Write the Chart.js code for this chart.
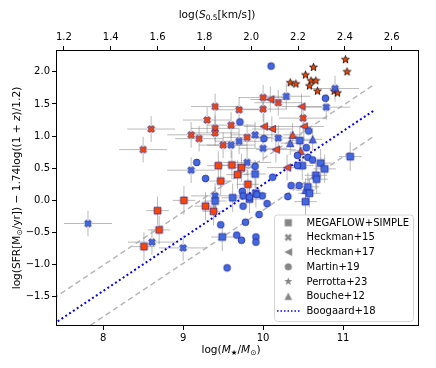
<!DOCTYPE html>
<html><head><meta charset="utf-8">
<script src="https://cdn.jsdelivr.net/npm/chart.js@4.4.0/dist/chart.umd.min.js"></script>
<style>html,body{margin:0;padding:0;background:#fff}canvas{display:block}</style>
</head><body>
<canvas id="c" width="436" height="368" style="width:436px;height:368px"></canvas>
<script>
// ---------------- data ----------------
const xTicks = [8, 9, 10, 11];
const yTicks = [-1.5, -1.0, -0.5, 0.0, 0.5, 1.0, 1.5, 2.0];
const topTicks = [1.2, 1.4, 1.6, 1.8, 2.0, 2.2, 2.4, 2.6];
const legendLabels = ['MEGAFLOW+SIMPLE', 'Heckman+15', 'Heckman+17', 'Martin+19', 'Perrotta+23', 'Bouche+12', 'Boogaard+18'];

// MEGAFLOW+SIMPLE (squares)
const mfOrangeM   = [8.68, 8.70, 8.51, 9.01, 9.28, 9.38, 9.44, 9.61, 9.73, 9.68, 9.47, 9.81];
const mfOrangeSFR = [-0.16, -0.46, -0.72, 0.00, -0.09, -0.17, 0.54, 0.55, 0.51, 0.40, 0.30, 0.25];
const mfBlueM     = [9.40, 9.62, 9.49, 9.83, 9.91, 9.90, 10.46, 10.72, 10.77, 11.09, 10.49, 10.66, 10.67, 10.56, 10.58, 10.53];
const mfBlueSFR   = [-0.01, 0.04, -0.57, 0.02, 0.11, 0.41, 0.93, 0.58, 0.49, 0.68, 0.54, 0.39, 0.33, 0.21, 0.11, -0.02];
const mfErrM = 0.14, mfErrSFR = 0.22;

// Heckman+15 (X)
const h15OrangeM   = [8.60, 8.50, 9.40, 9.70, 9.30, 9.60, 9.40, 9.40, 9.10, 9.20, 9.50, 9.80, 10.00, 10.19, 10.00, 10.50];
const h15OrangeSFR = [1.11, 0.79, 1.46, 1.41, 1.25, 1.17, 1.12, 1.05, 1.02, 0.96, 0.86, 0.98, 1.60, 1.52, 1.42, 1.28];
const h15BlueM     = [7.81, 8.61, 9.00, 9.10, 9.40, 9.60, 9.70, 9.90, 10.19, 10.00, 9.80, 10.29, 10.90, 10.79];
const h15BlueSFR   = [-0.36, -0.65, -0.74, 0.47, 0.07, 0.86, 0.92, 1.02, 0.97, 0.81, 0.59, 1.62, 1.74, 1.45];
const h15ErrM = 0.3, h15ErrSFR = 0.2;

// Heckman+17 (left triangles)
const h17M   = [10.09, 10.48, 10.51, 10.01, 10.11, 10.16, 10.30];
const h17SFR = [1.57, 1.46, 1.15, 1.15, 1.11, 0.79, 0.51];
const h17ErrM = 0.25, h17ErrSFR = 0.2;

// Martin+19 (circles)
const m19M   = [10.10, 9.71, 9.17, 9.28, 9.74, 9.75, 9.75, 9.47, 9.55, 9.78, 9.67, 9.73, 9.91, 9.91, 9.95, 10.01, 10.57, 10.43, 10.56, 10.62, 10.43, 10.12, 10.35, 10.45, 10.31, 9.99, 9.83, 9.90, 10.78, 10.54, 9.92, 10.05];
const m19SFR = [2.09, 1.22, 0.59, 0.34, 0.14, 0.07, -0.09, -0.38, -1.05, -0.34, -0.54, -0.62, -0.57, -0.65, -0.22, 0.96, 1.08, 0.70, 0.67, 0.63, 0.54, 0.36, 0.23, 0.23, 0.06, 0.07, 0.05, 0.53, 1.59, 0.82, 0.09, -0.05];

// Perrotta+23 (stars)
const p23M   = [10.34, 10.41, 10.53, 10.63, 10.60, 10.66, 10.58, 10.68, 11.03, 11.05, 10.89, 10.93];
const p23SFR = [1.83, 1.81, 1.95, 2.07, 1.86, 1.86, 1.78, 1.70, 2.19, 2.00, 1.70, 1.67];

// Bouche+12 (triangles)
const b12BlueM     = [10.34, 10.62, 10.53];
const b12BlueSFR   = [0.89, 0.95, 0.16];
const b12OrangeM   = [10.37, 10.47];
const b12OrangeSFR = [1.02, 0.77];
const b12ErrM = 0.12, b12ErrSFR = 0.18;

// Boogaard+18 relation and +/- 0.4 dex scatter
const boogaardM     = [7.0, 11.4];
const boogaardSFR   = [-2.24, 1.41];
const boogaardHiSFR = [-1.84, 1.81];
const boogaardLoSFR = [-2.64, 1.01];

// ---------------- styling ----------------
const ORANGE = '#ff4500', BLUE = '#4169e1', EDGE = 'rgba(35,35,150,0.75)', STAR_EDGE = 'rgba(45,20,10,0.9)';
const GRAY = '#868686', ERR = 'rgba(120,120,120,0.5)';
const FONT = '"DejaVu Sans", "Liberation Sans", sans-serif';

function marker(shape, size, fill, edge, lw) {
  const pad = 2, dim = Math.ceil(size + 2 * pad);
  const c = document.createElement('canvas'); c.width = c.height = dim;
  const g = c.getContext('2d'); g.translate(dim / 2, dim / 2);
  const h = size / 2; g.beginPath();
  if (shape === 'square') g.rect(-h, -h, size, size);
  else if (shape === 'circle') g.arc(0, 0, h, 0, 2 * Math.PI);
  else if (shape === 'tri') { g.moveTo(0, -h); g.lineTo(h, h); g.lineTo(-h, h); g.closePath(); }
  else if (shape === 'triLeft') { g.moveTo(-h, 0); g.lineTo(h, -h); g.lineTo(h, h); g.closePath(); }
  else if (shape === 'X') {
    const pts = [[-1,-3],[-1,-1],[-3,-1],[-3,1],[-1,1],[-1,3],[1,3],[1,1],[3,1],[3,-1],[1,-1],[1,-3]];
    const k = size / 6, r = Math.SQRT1_2;
    pts.forEach(([u, v], j) => { const X = (u - v) * r * k, Y = (u + v) * r * k; j ? g.lineTo(X, Y) : g.moveTo(X, Y); });
    g.closePath();
  } else if (shape === 'star') {
    for (let j = 0; j < 10; j++) {
      const rr = j % 2 ? h * 0.40 : h, a = -Math.PI / 2 + j * Math.PI / 5;
      const X = rr * Math.cos(a), Y = rr * Math.sin(a); j ? g.lineTo(X, Y) : g.moveTo(X, Y);
    }
    g.closePath();
  }
  g.fillStyle = fill; g.fill();
  if (edge) { g.lineWidth = lw; g.strokeStyle = edge; g.stroke(); }
  return c;
}

const SZ = { square: 6.8, X: 7.4, triLeft: 7.4, circle: 6.8, star: 8.2, tri: 7.2 };
const pts = (xs, ys) => xs.map((x, i) => ({ x, y: ys[i] }));

function scatterDs(label, xs, ys, shape, fill, edge, eM, eS) {
  return {
    label, type: 'scatter', data: pts(xs, ys), order: 0,
    pointStyle: marker(shape, SZ[shape], fill, edge, 1), pointRadius: 3,
    errM: eM || 0, errS: eS || 0
  };
}
function lineDs(label, ys, color, dash, width) {
  return {
    label, type: 'scatter', showLine: true, data: pts(boogaardM, ys), order: 10,
    borderColor: color, borderDash: dash, borderWidth: width, pointRadius: 0, fill: false
  };
}

const datasets = [
  lineDs('hi', boogaardHiSFR, 'rgba(170,170,170,0.85)', [5.5, 3.5], 1.5),
  lineDs('lo', boogaardLoSFR, 'rgba(170,170,170,0.85)', [5.5, 3.5], 1.5),
  lineDs('Boogaard+18', boogaardSFR, '#0000ff', [2, 2.6], 2),
  scatterDs('Martin+19 b', m19M, m19SFR, 'circle', BLUE, EDGE),
  scatterDs('MEGAFLOW b', mfBlueM, mfBlueSFR, 'square', BLUE, EDGE, mfErrM, mfErrSFR),
  scatterDs('MEGAFLOW o', mfOrangeM, mfOrangeSFR, 'square', ORANGE, EDGE, mfErrM, mfErrSFR),
  scatterDs('Heckman+15 b', h15BlueM, h15BlueSFR, 'X', BLUE, EDGE, h15ErrM, h15ErrSFR),
  scatterDs('Heckman+15 o', h15OrangeM, h15OrangeSFR, 'X', ORANGE, EDGE, h15ErrM, h15ErrSFR),
  scatterDs('Heckman+17', h17M, h17SFR, 'triLeft', ORANGE, EDGE, h17ErrM, h17ErrSFR),
  scatterDs('Bouche+12 b', b12BlueM, b12BlueSFR, 'tri', BLUE, EDGE, b12ErrM, b12ErrSFR),
  scatterDs('Bouche+12 o', b12OrangeM, b12OrangeSFR, 'tri', ORANGE, EDGE, b12ErrM, b12ErrSFR),
  scatterDs('Perrotta+23', p23M, p23SFR, 'star', ORANGE, STAR_EDGE)
];

const errorBars = {
  id: 'errorBars',
  beforeDatasetsDraw(chart) {
    const { ctx, chartArea: a } = chart, xs = chart.scales.x, ys = chart.scales.y;
    ctx.save();
    ctx.beginPath(); ctx.rect(a.left, a.top, a.right - a.left, a.bottom - a.top); ctx.clip();
    ctx.strokeStyle = ERR; ctx.lineWidth = 1;
    chart.data.datasets.forEach(ds => {
      if (!ds.errM && !ds.errS) return;
      ds.data.forEach(p => {
        const px = xs.getPixelForValue(p.x), py = ys.getPixelForValue(p.y);
        ctx.beginPath();
        ctx.moveTo(xs.getPixelForValue(p.x - ds.errM), py); ctx.lineTo(xs.getPixelForValue(p.x + ds.errM), py);
        ctx.moveTo(px, ys.getPixelForValue(p.y - ds.errS)); ctx.lineTo(px, ys.getPixelForValue(p.y + ds.errS));
        ctx.stroke();
      });
    });
    ctx.restore();
  }
};

function drawRich(ctx, segs, x, y, size, rotate) {
  ctx.save(); ctx.translate(x, y); if (rotate) ctx.rotate(-Math.PI / 2);
  let total = 0;
  const items = segs.map(([t, f]) => {
    const sub = f.includes('s'), sz = sub ? size * 0.7 : size;
    const font = (f.includes('i') ? 'italic ' : '') + sz + 'px ' + FONT;
    ctx.font = font; const w = ctx.measureText(t).width; total += w;
    return { t, font, w, dy: sub ? size * 0.22 : 0 };
  });
  let cx = -total / 2; ctx.textBaseline = 'alphabetic'; ctx.fillStyle = '#000';
  for (const it of items) { ctx.font = it.font; ctx.fillText(it.t, cx, it.dy); cx += it.w; }
  ctx.restore();
}

const LEG_SHAPES = ['square', 'X', 'triLeft', 'circle', 'star', 'tri'];
const decor = {
  id: 'decor',
  afterDraw(chart) {
    const { ctx, chartArea: a } = chart;
    ctx.save();
    // frame
    ctx.strokeStyle = '#000'; ctx.lineWidth = 1;
    ctx.strokeRect(Math.round(a.left) + 0.5, Math.round(a.top) + 0.5, Math.round(a.right - a.left) - 1, Math.round(a.bottom - a.top) - 1);
    // titles
    drawRich(ctx, [['log(', ''], ['S', 'i'], ['0.5', 's'], ['[km/s])', '']], 217, 17.5, 10.6, false);
    drawRich(ctx, [['log(', ''], ['M', 'i'], ['★', 's'], ['/', ''], ['M', 'i'], ['⊙', 's'], [')', '']], 231, 353, 10.6, false);
    drawRich(ctx, [['log(SFR[M', ''], ['⊙', 's'], ['/yr]) − 1.74log((1 + ', ''], ['z', 'i'], [')/1.2)', '']], 19.5, (a.top + a.bottom) / 2, 10.6, true);
    // legend
    const bx = 274, by = 214.5, bw = 139, bh = 106.5;
    ctx.beginPath(); ctx.roundRect(bx + 0.5, by + 0.5, bw, bh, 3);
    ctx.fillStyle = 'rgba(255,255,255,0.8)'; ctx.fill();
    ctx.strokeStyle = '#d6d6d6'; ctx.lineWidth = 1; ctx.stroke();
    ctx.font = '10px ' + FONT; ctx.fillStyle = '#000'; ctx.textBaseline = 'middle';
    legendLabels.forEach((lab, i) => {
      const cy = 222.7 + i * 14.7;
      if (i < LEG_SHAPES.length) {
        const m = marker(LEG_SHAPES[i], SZ[LEG_SHAPES[i]] + 0.4, GRAY, null, 0);
        ctx.drawImage(m, 288.3 - m.width / 2, cy - m.height / 2);
      } else {
        ctx.save(); ctx.strokeStyle = '#0000ff'; ctx.lineWidth = 1.5; ctx.setLineDash([1.5, 2]);
        ctx.beginPath(); ctx.moveTo(277, cy); ctx.lineTo(300, cy); ctx.stroke(); ctx.restore();
      }
      ctx.fillStyle = '#000';
      ctx.fillText(lab, 306.5, cy + 0.5);
    });
    ctx.restore();
  }
};

const tickFont = { family: FONT, size: 10 };
const gridOpt = { drawOnChartArea: false, drawTicks: true, tickLength: 4, color: '#000', lineWidth: 1 };
const fmt1 = v => (v < 0 ? '−' : '') + Math.abs(v).toFixed(1);

new Chart(document.getElementById('c'), {
  type: 'scatter',
  data: { datasets },
  options: {
    responsive: false, animation: false, events: [],
    layout: { padding: { left: 0, right: 17, top: 0, bottom: 0 } },
    plugins: { legend: { display: false }, tooltip: { enabled: false } },
    scales: {
      x: {
        type: 'linear', position: 'bottom', min: 7.41, max: 11.95,
        afterBuildTicks: s => { s.ticks = xTicks.map(v => ({ value: v })); },
        afterFit: s => { s.height = 42; },
        grid: gridOpt, border: { display: false },
        ticks: { font: tickFont, color: '#000', padding: 2, maxRotation: 0, autoSkip: false, callback: v => String(v) }
      },
      x2: {
        type: 'linear', position: 'top', min: 1.166, max: 2.717,
        afterBuildTicks: s => { s.ticks = topTicks.map(v => ({ value: v })); },
        afterFit: s => { s.height = 50; },
        grid: gridOpt, border: { display: false },
        ticks: { font: tickFont, color: '#000', padding: 3, maxRotation: 0, autoSkip: false, callback: v => v.toFixed(1) }
      },
      y: {
        type: 'linear', position: 'left', min: -1.955, max: 2.34,
        afterBuildTicks: s => { s.ticks = yTicks.map(v => ({ value: v })); },
        afterFit: s => { s.width = 56; },
        grid: gridOpt, border: { display: false },
        ticks: { font: tickFont, color: '#000', padding: 2, autoSkip: false, callback: fmt1 }
      }
    }
  },
  plugins: [errorBars, decor]
});
</script>
</body></html>
